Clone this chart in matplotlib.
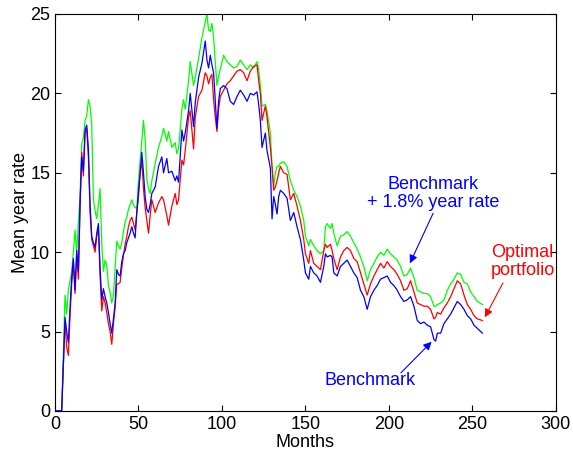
import matplotlib
matplotlib.use('Agg')
import matplotlib.pyplot as plt

plt.rcParams['font.family'] = ['Liberation Sans', 'DejaVu Sans']

months = [0, 4, 6, 7, 8, 9, 10, 11, 12, 13, 14, 15, 16, 17, 18, 19, 20, 21, 22, 23,
          24, 25, 26, 27, 28, 29, 30, 31, 32, 33, 34, 35, 36, 37, 38, 39, 40, 41, 42, 43,
          44, 45, 46, 47, 48, 49, 50, 51, 52, 53, 54, 55, 56, 57, 58, 60, 62, 64, 65, 67,
          68, 70, 72, 73, 74, 76, 77, 78, 80, 81, 83, 84, 86, 88, 90, 91, 92, 93, 94, 95,
          96, 97, 98, 99, 101, 103, 105, 107, 109, 111, 113, 115, 117, 119, 121, 122, 123, 124, 126, 127,
          129, 130, 131, 132, 133, 134, 135, 137, 139, 141, 143, 145, 147, 149, 150, 152, 153, 155, 157, 159,
          161, 162, 163, 165, 166, 167, 169, 171, 173, 175, 177, 179, 181, 183, 185, 187, 189, 191, 193, 195,
          197, 199, 201, 203, 205, 207, 209, 211, 213, 215, 217, 219, 221, 223, 225, 227, 228, 229, 231, 233,
          235, 237, 239, 241, 243, 245, 247, 249, 251, 253, 256]

benchmark = [0, 0, 5.9, 5.0, 4.3, 6.5, 8.4, 9.6, 7.6, 10.1, 8.8, 13.1, 16.0, 15.1, 17.7, 18.0, 16.5, 13.0, 11.0, 10.6,
             10.3, 11.2, 11.8, 9.0, 7.0, 7.7, 7.2, 6.8, 6.2, 5.5, 4.9, 5.8, 6.8, 8.9, 8.6, 8.5, 9.4, 9.9, 10.1, 10.6,
             10.9, 11.2, 11.6, 11.2, 10.9, 12.5, 13.8, 15.0, 16.3, 15.0, 13.5, 12.7, 12.5, 13.0, 13.7, 14.1, 15.4, 16.0, 15.0, 15.9,
             15.0, 15.1, 14.5, 14.8, 14.4, 17.7, 17.0, 17.5, 18.9, 20.0, 17.9, 19.4, 21.0, 21.9, 23.3, 22.1, 21.6, 22.4, 21.8, 21.3,
             19.5, 17.8, 19.5, 20.3, 20.5, 20.3, 19.5, 19.3, 19.8, 20.2, 19.9, 19.5, 20.0, 19.9, 20.1, 19.3, 18.3, 16.6, 17.5, 16.4,
             15.3, 12.1, 13.5, 13.0, 12.4, 13.5, 13.9, 13.7, 13.4, 12.0, 12.5, 11.6, 10.8, 9.5, 8.7, 8.3, 9.1, 8.7, 8.5, 8.1,
             9.1, 9.9, 9.7, 9.8, 9.7, 8.7, 8.5, 9.1, 9.3, 9.5, 9.1, 8.7, 8.4, 7.6, 7.2, 6.4, 7.2, 7.6, 7.9, 8.3,
             8.4, 8.5, 8.1, 7.9, 7.6, 7.2, 6.9, 7.0, 7.2, 6.6, 5.7, 5.5, 5.6, 5.4, 5.3, 4.5, 4.4, 4.9, 4.9, 5.5,
             5.8, 6.1, 6.5, 6.9, 6.7, 6.4, 6.0, 5.8, 5.4, 5.2, 4.9]

optimal = [0, 0, 5.6, 4.0, 3.5, 6.0, 8.0, 9.3, 7.4, 9.9, 8.3, 12.8, 16.3, 14.8, 17.5, 17.8, 16.0, 12.5, 10.8, 10.4,
           10.0, 11.0, 11.5, 8.5, 6.3, 7.2, 6.8, 6.2, 5.5, 5.0, 4.2, 5.5, 6.5, 8.0, 8.0, 8.1, 9.0, 9.8, 10.5, 11.0,
           11.6, 12.0, 12.2, 11.8, 11.4, 12.5, 13.5, 15.0, 15.8, 14.0, 12.8, 12.0, 11.2, 12.3, 13.3, 12.5, 13.1, 13.5, 13.3, 12.3,
           11.7, 12.9, 13.7, 13.0, 13.3, 15.8, 15.5, 16.4, 18.5, 18.9, 16.5, 18.5, 19.8, 20.2, 21.3, 21.1, 20.6, 21.0, 21.2, 19.6,
           18.5, 17.6, 19.0, 19.8, 20.2, 20.6, 20.8, 21.1, 21.4, 21.5, 21.3, 20.8, 21.4, 21.7, 21.8, 20.8, 20.0, 18.3, 19.2, 18.5,
           16.6, 15.4, 13.9, 14.1, 14.5, 15.0, 15.4, 15.0, 14.9, 13.3, 13.7, 12.9, 12.0, 10.8, 9.9, 9.3, 10.1, 9.3, 9.1, 8.9,
           10.1, 10.5, 10.3, 10.5, 10.1, 9.6, 8.9, 9.7, 10.1, 10.3, 10.1, 9.6, 9.4, 8.7, 8.0, 7.3, 8.0, 8.5, 8.9, 9.3,
           9.0, 9.4, 9.1, 8.9, 8.6, 8.2, 7.6, 7.7, 8.2, 7.5, 6.8, 6.7, 6.6, 6.6, 6.4, 5.8, 5.9, 6.2, 6.1, 6.5,
           6.8, 7.2, 7.7, 8.2, 8.0, 7.3, 6.7, 6.4, 6.0, 5.8, 5.7]

bench_plus = [0, 0, 7.3, 6.1, 7.6, 8.2, 8.8, 10.0, 11.4, 9.9, 11.9, 13.5, 16.8, 17.2, 18.3, 18.6, 19.6, 19.2, 18.0, 13.3,
              12.6, 12.1, 13.0, 14.0, 10.5, 8.8, 9.5, 9.2, 7.9, 7.5, 6.8, 7.3, 9.0, 10.7, 10.4, 10.2, 10.6, 11.3, 11.9, 12.2,
              12.7, 13.0, 13.3, 13.0, 12.8, 12.8, 14.5, 15.8, 17.0, 18.3, 17.1, 14.6, 14.0, 13.7, 14.5, 15.6, 16.6, 17.3, 17.8, 17.0,
              17.6, 16.6, 16.9, 16.2, 16.5, 19.0, 19.6, 19.0, 20.8, 22.0, 20.5, 21.0, 22.2, 23.5, 24.5, 25.0, 24.0, 23.9, 24.4, 23.5,
              22.0, 20.5, 21.1, 21.5, 22.4, 22.0, 21.8, 21.6, 21.7, 22.1, 21.8, 21.5, 21.8, 21.6, 22.0, 21.5, 20.5, 19.2, 19.3, 18.9,
              17.5, 15.4, 14.1, 15.0, 15.4, 15.4, 15.6, 15.7, 15.4, 14.5, 13.9, 13.5, 12.9, 12.0, 11.0, 10.4, 10.8, 10.4, 10.1, 9.9,
              10.1, 11.6, 11.8, 11.5, 11.8, 11.2, 10.4, 11.0, 11.1, 11.3, 11.0, 10.6, 10.2, 9.7, 9.1, 8.2, 8.9, 9.3, 9.7, 10.0,
              9.8, 10.2, 9.9, 9.7, 9.5, 9.1, 8.5, 8.6, 9.0, 8.4, 7.6, 7.5, 7.4, 7.4, 7.2, 6.6, 6.6, 6.7, 6.8, 7.0,
              7.6, 8.0, 8.3, 8.7, 8.6, 8.1, 8.0, 7.5, 7.2, 6.9, 6.7]

fig = plt.figure(figsize=(5.73, 4.57), dpi=100)
ax = fig.add_axes([0.096, 0.1007, 0.874, 0.8687])

ax.plot(months, bench_plus, color=(0, 1, 0), lw=0.9)
ax.plot(months, optimal, color=(1, 0, 0), lw=0.9)
ax.plot(months, benchmark, color=(0, 0, 1), lw=0.9)

ax.set_xlim(0, 300)
ax.set_ylim(0, 25)
ax.set_xticks(range(0, 301, 50))
ax.set_yticks(range(0, 26, 5))
ax.tick_params(direction='in', top=True, right=True, length=4, labelsize=13)
ax.set_xlabel('Months', fontsize=13, labelpad=1)
ax.set_ylabel('Mean year rate', fontsize=13, labelpad=1)

arrow = dict(arrowstyle='-|>', lw=0.8, mutation_scale=12, shrinkA=0, shrinkB=0)

ax.text(226.3, 13.7, 'Benchmark\n+ 1.8% year rate', color='blue', fontsize=13,
        ha='center', va='center', linespacing=1.05)
ax.annotate('', xy=(212.6, 9.3), xytext=(226.5, 12.45),
            arrowprops=dict(arrow, color='blue'))

ax.text(280, 9.4, 'Optimal\nportfolio', color='red', fontsize=13,
        ha='center', va='center', linespacing=1.05, clip_on=False)
ax.annotate('', xy=(257.5, 5.9), xytext=(268.3, 8.06),
            arrowprops=dict(arrow, color='red'))

ax.text(188.6, 1.9, 'Benchmark', color='blue', fontsize=13, ha='center', va='center')
ax.annotate('', xy=(225.6, 4.36), xytext=(207.2, 2.4),
            arrowprops=dict(arrow, color='blue'))

fig.savefig('out.png', dpi=100)
